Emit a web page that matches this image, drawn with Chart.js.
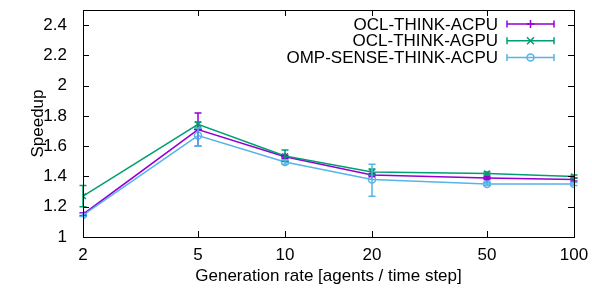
<!DOCTYPE html>
<html>
<head>
<meta charset="utf-8">
<script src="https://cdn.jsdelivr.net/npm/chart.js@4.4.1/dist/chart.umd.min.js"></script>
<style>
html, body { margin: 0; padding: 0; background: #fff; }
#wrap { width: 592px; height: 288px; }
</style>
</head>
<body>
<div id="wrap"><canvas id="speedup" width="592" height="288"></canvas></div>
<script>
'use strict'
/* data */
var genRates = [2, 5, 10, 20, 50, 100];
var yTickValues = [1, 1.2, 1.4, 1.6, 1.8, 2, 2.2, 2.4];
var seriesNames = ['OCL-THINK-ACPU', 'OCL-THINK-AGPU', 'OMP-SENSE-THINK-ACPU'];

var oclAcpu     = [1.15, 1.71, 1.53, 1.41, 1.39, 1.38];
var oclAcpuLow  = [1.14, 1.60, 1.52, 1.40, 1.38, 1.37];
var oclAcpuHigh = [1.16, 1.82, 1.54, 1.42, 1.40, 1.39];

var oclAgpu     = [1.27, 1.745, 1.535, 1.43, 1.42, 1.40];
var oclAgpuLow  = [1.20, 1.72, 1.50, 1.41, 1.41, 1.39];
var oclAgpuHigh = [1.34, 1.76, 1.575, 1.45, 1.43, 1.41];

var ompSense     = [1.145, 1.67, 1.495, 1.38, 1.35, 1.35];
var ompSenseLow  = [1.135, 1.60, 1.48, 1.27, 1.34, 1.34];
var ompSenseHigh = [1.155, 1.72, 1.51, 1.48, 1.36, 1.36];

var fontFamily = '"Liberation Sans", Arial, Helvetica, sans-serif';
var fontSize = 17;
var colPurple = '#9400d3';
var colGreen = '#009e73';
var colBlue = '#56b4e9';

function toPoints(vals) {
    return genRates.map(function (x, i) { return { x: x, y: vals[i] }; });
}

var errorData = [
    { low: oclAcpuLow, high: oclAcpuHigh },
    { low: oclAgpuLow, high: oclAgpuHigh },
    { low: ompSenseLow, high: ompSenseHigh }
];

function drawMarker(ctx, style, x, y, color) {
    ctx.save();
    ctx.strokeStyle = color;
    ctx.lineWidth = 1.5;
    ctx.beginPath();
    if (style === 'cross') {
        ctx.moveTo(x - 4, y); ctx.lineTo(x + 4, y);
        ctx.moveTo(x, y - 4); ctx.lineTo(x, y + 4);
    } else if (style === 'crossRot') {
        ctx.moveTo(x - 3.5, y - 3.5); ctx.lineTo(x + 3.5, y + 3.5);
        ctx.moveTo(x - 3.5, y + 3.5); ctx.lineTo(x + 3.5, y - 3.5);
    } else {
        ctx.arc(x, y, 3.5, 0, Math.PI * 2);
    }
    ctx.stroke();
    ctx.restore();
}

/* error bars, drawn through the scales */
var errorBarPlugin = {
    id: 'errorBars',
    afterDatasetsDraw: function (chart) {
        var ctx = chart.ctx;
        var yScale = chart.scales.y;
        chart.data.datasets.forEach(function (ds, i) {
            var meta = chart.getDatasetMeta(i);
            var err = errorData[i];
            ctx.save();
            ctx.strokeStyle = ds.borderColor;
            ctx.lineWidth = 1.5;
            meta.data.forEach(function (pt, j) {
                var yl = yScale.getPixelForValue(err.low[j]);
                var yh = yScale.getPixelForValue(err.high[j]);
                ctx.beginPath();
                ctx.moveTo(pt.x, yl); ctx.lineTo(pt.x, yh);
                ctx.moveTo(pt.x - 3.5, yl); ctx.lineTo(pt.x + 3.5, yl);
                ctx.moveTo(pt.x - 3.5, yh); ctx.lineTo(pt.x + 3.5, yh);
                ctx.stroke();
            });
            ctx.restore();
        });
    }
};

/* gnuplot style frame with inward ticks and key */
var framePlugin = {
    id: 'frame',
    afterDraw: function (chart) {
        var ctx = chart.ctx;
        var a = chart.chartArea;
        var xs = chart.scales.x, ys = chart.scales.y;
        ctx.save();
        ctx.strokeStyle = '#000';
        ctx.lineWidth = 1;
        ctx.strokeRect(Math.round(a.left) + 0.5, Math.round(a.top) + 0.5,
            Math.round(a.right - a.left), Math.round(a.bottom - a.top));
        ctx.beginPath();
        yTickValues.forEach(function (v) {
            var py = Math.round(ys.getPixelForValue(v)) + 0.5;
            ctx.moveTo(a.left, py); ctx.lineTo(a.left + 6, py);
            ctx.moveTo(a.right, py); ctx.lineTo(a.right - 6, py);
        });
        genRates.forEach(function (v) {
            var px = Math.round(xs.getPixelForValue(v)) + 0.5;
            ctx.moveTo(px, a.bottom); ctx.lineTo(px, a.bottom - 6);
            ctx.moveTo(px, a.top); ctx.lineTo(px, a.top + 6);
        });
        ctx.stroke();

        // key
        var styles = ['cross', 'crossRot', 'circle'];
        ctx.font = fontSize + 'px ' + fontFamily;
        ctx.textAlign = 'right';
        ctx.textBaseline = 'middle';
        chart.data.datasets.forEach(function (ds, i) {
            var ky = a.top + 14 + i * 16.7;
            ctx.fillStyle = '#000';
            ctx.fillText(seriesNames[i], 498, ky + 1);
            ctx.strokeStyle = ds.borderColor;
            ctx.lineWidth = 1.5;
            ctx.beginPath();
            ctx.moveTo(507, ky); ctx.lineTo(554, ky);
            ctx.moveTo(507, ky - 3.5); ctx.lineTo(507, ky + 3.5);
            ctx.moveTo(554, ky - 3.5); ctx.lineTo(554, ky + 3.5);
            ctx.stroke();
            drawMarker(ctx, styles[i], 530.5, ky, ds.borderColor);
        });
        ctx.restore();
    }
};

var speedupCtx = document.getElementById('speedup').getContext('2d');
var speedupChart = new Chart(speedupCtx, {
    type: 'line',
    data: {
        datasets: [{
            label: seriesNames[0],
            data: toPoints(oclAcpu),
            borderColor: colPurple,
            backgroundColor: colPurple,
            borderWidth: 1.5,
            pointStyle: 'cross',
            pointRadius: 4,
            pointBorderWidth: 1.5,
            tension: 0,
            order: 3
        }, {
            label: seriesNames[1],
            data: toPoints(oclAgpu),
            borderColor: colGreen,
            backgroundColor: colGreen,
            borderWidth: 1.5,
            pointStyle: 'crossRot',
            pointRadius: 4,
            pointBorderWidth: 1.5,
            tension: 0,
            order: 2
        }, {
            label: seriesNames[2],
            data: toPoints(ompSense),
            borderColor: colBlue,
            backgroundColor: 'rgba(0,0,0,0)',
            borderWidth: 1.5,
            pointStyle: 'circle',
            pointRadius: 3.5,
            pointBorderWidth: 1.5,
            tension: 0,
            order: 1
        }]
    },
    options: {
        responsive: false,
        animation: false,
        layout: { padding: { top: 10, right: 18, left: 0, bottom: 0 } },
        plugins: {
            legend: { display: false },
            tooltip: { enabled: false }
        },
        scales: {
            x: {
                type: 'logarithmic',
                min: 2,
                max: 100,
                afterBuildTicks: function (scale) {
                    scale.ticks = genRates.map(function (v) { return { value: v }; });
                },
                afterFit: function (scale) {
                    scale.height = 51;
                    scale.paddingLeft = 0;
                    scale.paddingRight = 0;
                },
                grid: { display: false },
                border: { display: false },
                ticks: {
                    color: '#000',
                    padding: 0,
                    maxRotation: 0,
                    autoSkip: false,
                    font: { family: fontFamily, size: fontSize },
                    callback: function (v) { return String(v); }
                },
                title: {
                    display: true,
                    text: 'Generation rate [agents / time step]',
                    color: '#000',
                    font: { family: fontFamily, size: fontSize },
                    padding: { top: 0, bottom: 1 }
                }
            },
            y: {
                min: 1,
                max: 2.5,
                afterBuildTicks: function (scale) {
                    scale.ticks = yTickValues.map(function (v) { return { value: v }; });
                },
                afterFit: function (scale) {
                    scale.width = 83;
                    scale.paddingTop = 0;
                    scale.paddingBottom = 0;
                },
                grid: { display: false },
                border: { display: false },
                ticks: {
                    color: '#000',
                    padding: 8,
                    font: { family: fontFamily, size: fontSize },
                    callback: function (v) { return String(Math.round(v * 10) / 10); }
                },
                title: {
                    display: true,
                    text: 'Speedup',
                    color: '#000',
                    font: { family: fontFamily, size: fontSize },
                    padding: { top: 28, bottom: 0 }
                }
            }
        }
    },
    plugins: [errorBarPlugin, framePlugin]
});
</script>
</body>
</html>
